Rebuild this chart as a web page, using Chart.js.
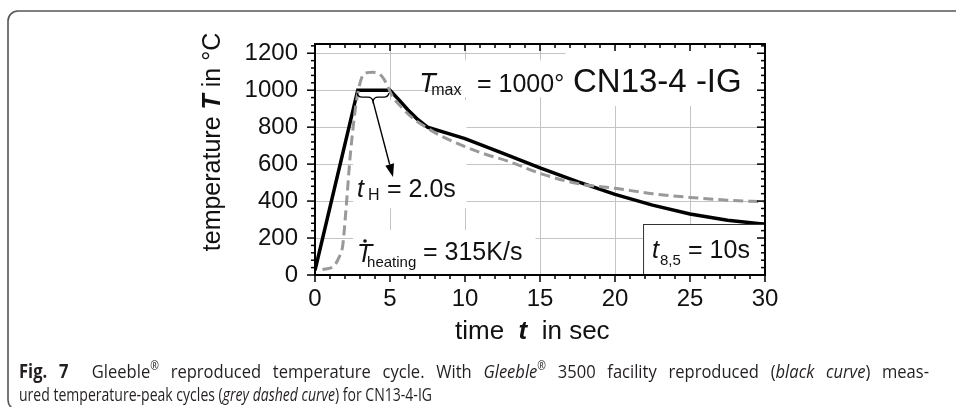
<!DOCTYPE html>
<html>
<head>
<meta charset="utf-8">
<script src="https://cdn.jsdelivr.net/npm/chart.js@4.4.1/dist/chart.umd.min.js"></script>
<style>
  html, body { margin: 0; padding: 0; background: #fff; }
  #wrap { width: 956px; height: 407px; }
</style>
</head>
<body>
<div id="wrap"><canvas id="chart" width="956" height="407"></canvas></div>
<script>
const xTickValues = [0, 5, 10, 15, 20, 25, 30];
const yTickValues = [0, 200, 400, 600, 800, 1000, 1200];

// Gleeble reproduced cycle (black curve)
const timeReproduced = [0, 2.85, 5.0, 5.6, 6.2, 6.8, 7.5, 10, 12.5, 15, 17.5, 20, 22.5, 25, 27.5, 30];
const tempReproduced = [25, 1000, 1000, 948, 893, 845, 800, 738, 660, 580, 505, 436, 378, 330, 296, 274];

// measured temperature-peak cycle (grey dashed curve)
const timeMeasured = [0.5, 1.2, 1.6, 1.85, 2.0, 2.15, 2.3, 2.45, 2.6, 2.8, 3.1, 3.5, 3.8, 4.4, 4.8, 5.1, 5.8, 6.5, 7.2, 8.3, 10, 11.2, 13, 15, 17.5, 20, 22.5, 25, 27.5, 30];
const tempMeasured = [30, 45, 95, 160, 290, 440, 600, 730, 840, 960, 1065, 1095, 1097, 1080, 1030, 975, 905, 850, 810, 757, 695, 658, 612, 550, 495, 469, 440, 420, 405, 396];

const SANS = "'Liberation Sans', Arial, sans-serif";
const CAPTION = "'Open Sans', 'Noto Sans', sans-serif";

const pts = (xs, ys) => xs.map((x, i) => ({ x, y: ys[i] }));

function line(ctx, x1, y1, x2, y2) {
  ctx.beginPath();
  ctx.moveTo(x1, y1);
  ctx.lineTo(x2, y2);
  ctx.stroke();
}

function text(ctx, str, x, y, font) {
  ctx.font = font;
  ctx.fillText(str, x, y);
  return ctx.measureText(str).width;
}

const cyclePlot = {
  id: 'cyclePlot',
  beforeDatasetsDraw(chart) {
    // white panels behind the labels hide the grid there
    const { ctx, scales: { x, y } } = chart;
    const box = (t1, T1, t2, T2) => {
      const x1 = x.getPixelForValue(t1), x2 = x.getPixelForValue(t2);
      const y1 = y.getPixelForValue(T1), y2 = y.getPixelForValue(T2);
      ctx.fillRect(x1, y1, x2 - x1, y2 - y1);
    };
    ctx.save();
    ctx.fillStyle = '#fff';
    box(9.8, 1162, 16.7, 962);
    box(16.7, 1227, 30, 914);
    box(2.55, 946, 10.1, 362);
    box(2.55, 243, 14.7, 0);
    ctx.restore();
  },
  afterDraw(chart) {
    const { ctx, chartArea: { left, right, top, bottom }, scales: { x, y } } = chart;
    const px = v => x.getPixelForValue(v);
    const py = v => y.getPixelForValue(v);
    ctx.save();

    // t8,5 box
    ctx.fillStyle = '#fff';
    ctx.strokeStyle = '#333';
    ctx.lineWidth = 1;
    const bx = px(21.87), by = py(276);
    ctx.fillRect(bx, by, right - bx, bottom - by);
    ctx.strokeRect(bx + 0.5, by + 0.5, right - bx, bottom - by);

    // axis frame with mirrored ticks
    ctx.strokeStyle = '#000';
    ctx.lineWidth = 1.5;
    for (let v = 0; v <= 30; v += 1) {
      const xx = px(v);
      const len = v % 5 === 0 ? 7 : 4;
      line(ctx, xx, bottom, xx, bottom + len);
      line(ctx, xx, top, xx, top + len);
    }
    for (let v = 0; v <= 1240; v += 40) {
      const yy = py(v);
      const len = v % 200 === 0 ? 8 : 4;
      line(ctx, left - len, yy, left, yy);
      line(ctx, right - len, yy, right, yy);
    }
    ctx.lineWidth = 2;
    ctx.strokeRect(left, top, right - left, bottom - top);

    ctx.fillStyle = '#111';
    ctx.textBaseline = 'alphabetic';
    ctx.textAlign = 'left';

    // T_max = 1000°  CN13-4 -IG
    text(ctx, 'T', px(6.95), py(989), `italic 27px ${SANS}`);
    text(ctx, 'max', px(7.75), py(972), `16px ${SANS}`);
    text(ctx, '= 1000°', px(10.8), py(989), `25px ${SANS}`);
    text(ctx, 'CN13-4 -IG', px(17.2), py(989), `33px ${SANS}`);

    // holding time brace and arrow
    const xa = px(2.8), xb = px(4.93), xm = (xa + xb) / 2, y0 = py(984);
    ctx.lineWidth = 1.4;
    ctx.strokeStyle = '#000';
    ctx.beginPath();
    ctx.moveTo(xa, y0);
    ctx.quadraticCurveTo(xa + 1, y0 + 4, xa + 5, y0 + 4);
    ctx.lineTo(xm - 5, y0 + 4);
    ctx.quadraticCurveTo(xm - 1, y0 + 4, xm, y0 + 8);
    ctx.quadraticCurveTo(xm + 1, y0 + 4, xm + 5, y0 + 4);
    ctx.lineTo(xb - 5, y0 + 4);
    ctx.quadraticCurveTo(xb - 1, y0 + 4, xb, y0);
    ctx.stroke();

    const ax = xm, ay = y0 + 8, tx = px(5.2), ty = py(530);
    const ang = Math.atan2(ty - ay, tx - ax);
    const hl = 13, hw = 4.5;
    const hx = tx - hl * Math.cos(ang), hy = ty - hl * Math.sin(ang);
    line(ctx, ax, ay, hx, hy);
    ctx.beginPath();
    ctx.moveTo(tx, ty);
    ctx.lineTo(hx + hw * Math.sin(ang), hy - hw * Math.cos(ang));
    ctx.lineTo(hx - hw * Math.sin(ang), hy + hw * Math.cos(ang));
    ctx.closePath();
    ctx.fillStyle = '#000';
    ctx.fill();
    ctx.fillStyle = '#111';

    // t_H = 2.0s
    text(ctx, 't', px(2.8), py(422), `italic 25px ${SANS}`);
    text(ctx, 'H', px(3.53), py(405), `16px ${SANS}`);
    text(ctx, '= 2.0s', px(4.8), py(422), `25px ${SANS}`);

    // heating rate
    text(ctx, 'T', px(2.8), py(70), `italic 25px ${SANS}`);
    ctx.beginPath();
    ctx.arc(px(2.8) + 8, py(70) - 21, 1.8, 0, Math.PI * 2);
    ctx.fill();
    text(ctx, 'heating', px(3.47), py(43), `15px ${SANS}`);
    text(ctx, '= 315K/s', px(7.2), py(81), `25px ${SANS}`);

    // t8,5 = 10s
    text(ctx, 't', px(22.47), py(92), `italic 25px ${SANS}`);
    text(ctx, '8,5', px(23.0), py(54), `15px ${SANS}`);
    text(ctx, '= 10s', px(24.87), py(92), `25px ${SANS}`);

    // axis titles
    ctx.save();
    ctx.translate(220, 142);
    ctx.rotate(-Math.PI / 2);
    const yParts = [['temperature ', `25px ${SANS}`], ['T', `italic bold 25px ${SANS}`], [' in °C', `25px ${SANS}`]];
    let w = 0;
    yParts.forEach(([s, f]) => { ctx.font = f; w += ctx.measureText(s).width; });
    let cx = -w / 2;
    yParts.forEach(([s, f]) => { cx += text(ctx, s, cx, 0, f); });
    ctx.restore();

    const xParts = [['time  ', `26px ${SANS}`], ['t', `italic bold 26px ${SANS}`], ['  in sec', `26px ${SANS}`]];
    cx = 455;
    xParts.forEach(([s, f]) => { cx += text(ctx, s, cx, 339, f); });

    // figure frame
    ctx.strokeStyle = '#555';
    ctx.lineWidth = 1.6;
    ctx.beginPath();
    ctx.moveTo(960, 11);
    ctx.lineTo(18, 11);
    ctx.arcTo(8, 11, 8, 21, 10);
    ctx.lineTo(8, 400);
    ctx.arcTo(8, 410, 18, 410, 10);
    ctx.stroke();

    // caption: first line justified (wider glyphs and word gaps), last line natural
    const line1 = [
      ['Fig. 7', 'bold'], ['  Gleeble', ''], ['®', 'sup'], [' reproduced temperature cycle. With ', ''],
      ['Gleeble', 'italic'], ['®', 'sup'], [' 3500 facility reproduced (', ''], ['black curve', 'italic'], [') meas-', '']
    ];
    const line2 = [
      ['ured temperature-peak cycles (', ''], ['grey dashed curve', 'italic'], [') for CN13-4-IG', '']
    ];
    const capFont = st => st === 'sup' ? `12px ${CAPTION}` : `${st} 19px ${CAPTION}`.trim();
    const widthOf = parts => parts.reduce((acc, [s, st]) => { ctx.font = capFont(st); return acc + ctx.measureText(s).width; }, 0);
    const glyphWidth = parts => parts.reduce((acc, [s, st]) => { ctx.font = capFont(st); return acc + ctx.measureText(s.replace(/ /g, '')).width; }, 0);
    const sx2 = 413 / widthOf(line2);
    const spaces = line1.reduce((n, [s]) => n + (s.match(/ /g) || []).length, 0);
    const extraTotal = 910 - widthOf(line1) * sx2;
    const sx1 = sx2 * (1 + 0.5 * extraTotal / (glyphWidth(line1) * sx2));
    const ws1 = 0.5 * extraTotal / spaces;
    const drawCap = (parts, x0, base, sxg, ws) => {
      ctx.save();
      ctx.translate(x0, base);
      let cx2 = 0;
      parts.forEach(([s, st]) => {
        ctx.font = capFont(st);
        s.split(/( )/).forEach(chunk => {
          if (!chunk) return;
          if (chunk === ' ') { cx2 += ctx.measureText(' ').width * sx2 + ws; return; }
          ctx.save();
          ctx.translate(cx2, st === 'sup' ? -8 : 0);
          ctx.scale(sxg, 1);
          ctx.fillText(chunk, 0, 0);
          ctx.restore();
          cx2 += ctx.measureText(chunk).width * sxg;
        });
      });
      ctx.restore();
    };
    ctx.fillStyle = '#231f20';
    drawCap(line1, 19, 378, sx1, ws1);
    drawCap(line2, 19, 401, sx2, 0);

    ctx.restore();
  }
};

Chart.defaults.font.family = SANS;

new Chart(document.getElementById('chart').getContext('2d'), {
  type: 'line',
  data: {
    datasets: [
      {
        label: 'reproduced',
        data: pts(timeReproduced, tempReproduced),
        borderColor: '#000',
        borderWidth: 3.5,
        pointRadius: 0,
        tension: 0,
        order: 2
      },
      {
        label: 'measured',
        data: pts(timeMeasured, tempMeasured),
        borderColor: '#999',
        borderWidth: 3,
        borderDash: [10, 5],
        pointRadius: 0,
        cubicInterpolationMode: 'monotone',
        order: 1
      }
    ]
  },
  options: {
    responsive: false,
    animation: false,
    layout: { padding: { left: 235, top: 44, right: 191, bottom: 72 } },
    plugins: { legend: { display: false }, tooltip: { enabled: false } },
    scales: {
      x: {
        type: 'linear',
        min: 0,
        max: 30,
        afterBuildTicks: s => { s.ticks = xTickValues.map(v => ({ value: v })); },
        afterFit: s => { s.height = 60; },
        grid: {
          color: c => (c.tick && (c.tick.value === 0 || c.tick.value === 30)) ? 'rgba(0,0,0,0)' : '#c4c4c4',
          lineWidth: 1,
          drawTicks: false
        },
        border: { display: false },
        ticks: { font: { size: 24 }, color: '#111', padding: 10, maxRotation: 0, autoSkip: false, callback: v => String(v) }
      },
      y: {
        min: 0,
        max: 1250,
        afterBuildTicks: s => { s.ticks = yTickValues.map(v => ({ value: v })); },
        afterFit: s => { s.width = 80; },
        grid: {
          color: c => (c.tick && c.tick.value === 0) ? 'rgba(0,0,0,0)' : '#c4c4c4',
          lineWidth: 1,
          drawTicks: false
        },
        border: { display: false },
        ticks: { font: { size: 24 }, color: '#111', padding: 17, autoSkip: false, callback: v => String(v) }
      }
    }
  },
  plugins: [cyclePlot]
});
</script>
</body>
</html>
